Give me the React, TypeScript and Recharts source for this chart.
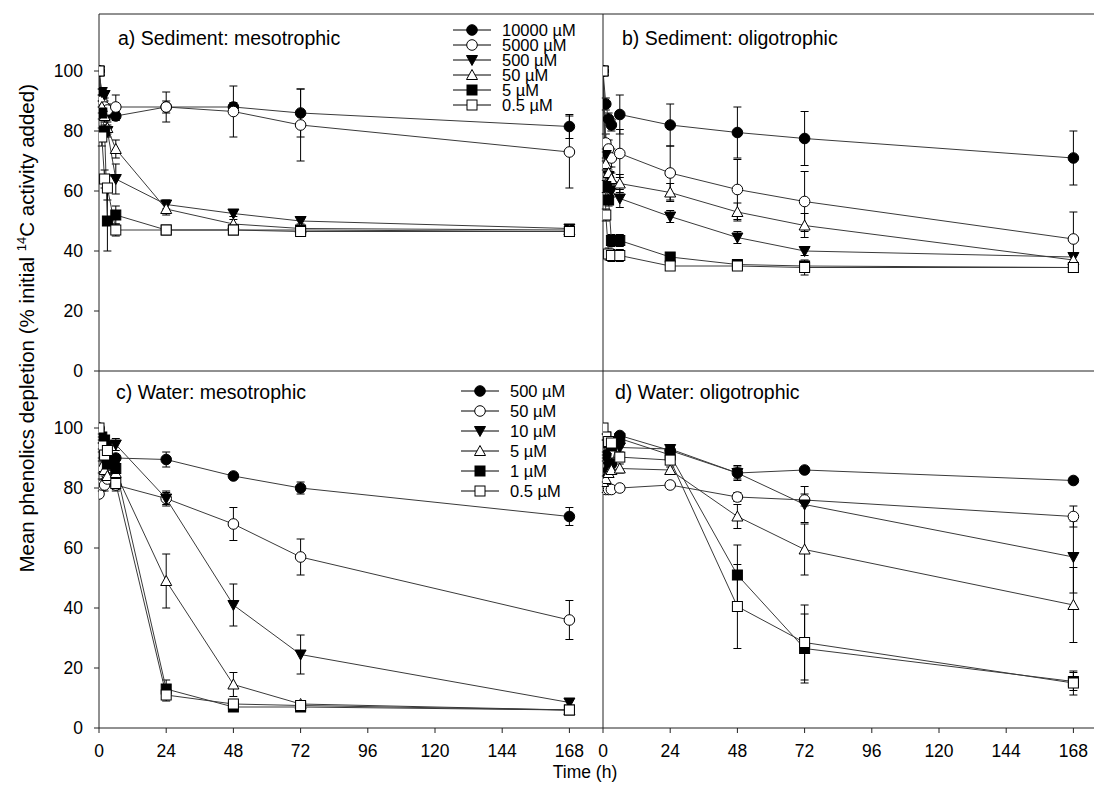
import { LineChart, Line, XAxis, YAxis, ErrorBar, Legend } from "recharts";

// sampling times (h) and axis ticks
const hours = [0, 1, 2, 3, 6, 24, 48, 72, 168];
const hourTicks = [0, 24, 48, 72, 96, 120, 144, 168];
const pctTicks = [0, 20, 40, 60, 80, 100];

const sedimentDoses = ["10000 µM", "5000 µM", "500 µM", "50 µM", "5 µM", "0.5 µM"];
const waterDoses = ["500 µM", "50 µM", "10 µM", "5 µM", "1 µM", "0.5 µM"];

// a) sediment, mesotrophic — one row per dose, one value per sampling time
const sedMesoMean = [
  [100, 92, 87, 86, 85, 88, 88, 86, 81.5],
  [100, 90, 88, 87, 88, 88, 86.5, 82, 73],
  [100, 93, 92, 80, 64, 55.5, 52.5, 50, 47.5],
  [100, 88, 85, 81, 74, 54, 49, 47.5, 47],
  [100, 86, 80, 50, 52, 47, 47, 47, 46.5],
  [100, 78, 64, 61, 47, 47, 47, 46.5, 46.5],
];
const sedMesoErr = [
  [0, 2, 2, 2, 1.5, 2, 1.5, 8, 4],
  [0, 2, 2, 2, 4, 5, 8.5, 12, 12],
  [0, 1, 1, 2, 5, 1.5, 1, 1, 1],
  [0, 2, 2, 2, 3, 2, 1.5, 1, 1],
  [0, 2, 2, 10, 3, 1, 1, 1, 1],
  [0, 3, 3, 4, 2, 1, 1, 1, 1],
];

// b) sediment, oligotrophic
const sedOligoMean = [
  [100, 89, 84, 82, 85.5, 82, 79.5, 77.5, 71],
  [100, 76, 74, 71, 72.5, 66, 60.5, 56.5, 44],
  [100, 72, 65, 60, 57.5, 51.5, 44.5, 40, 38],
  [100, 69, 66, 64, 62.5, 59.5, 53, 48.5, 37],
  [100, 61.5, 57, 43.5, 43.5, 38, 35.5, 35, 34.5],
  [100, 52, 39, 38.5, 38.5, 35, 35, 34.5, 34.5],
];
const sedOligoErr = [
  [0, 2, 2, 2, 6.5, 7, 8.5, 9, 9],
  [0, 3, 3, 3, 8, 9, 10, 10, 9],
  [0, 2, 2, 2, 3, 2, 2, 1.5, 1.5],
  [0, 2, 2, 2, 3, 3, 3, 4, 1.5],
  [0, 2, 2, 2, 2, 1.5, 1, 1, 1],
  [0, 2, 2, 2, 2, 1, 1, 2.5, 1],
];

// c) water, mesotrophic
const watMesoMean = [
  [100, 96, 93, 91, 90, 89.5, 84, 80, 70.5],
  [78, 81, 81, 83, 81, 76.5, 68, 57, 36],
  [95, 91, 93, 94, 94.5, 76.5, 41, 24.5, 8.5],
  [92, 87, 86, 84, 85, 49, 14.5, 8, 6],
  [98, 97, 96, 88, 86.5, 13, 7, 7, 6],
  [100, 94, 91, 92.5, 81.5, 11, 8, 7.5, 6],
];
const watMesoErr = [
  [0, 1, 1, 1, 1, 2.5, 1, 2, 3],
  [0, 2, 2, 2, 2, 2, 5.5, 6, 6.5],
  [0, 1, 1, 1, 2, 2.5, 7, 6.5, 1],
  [0, 2, 2, 2, 2, 9, 4, 1, 0.5],
  [0, 1, 1, 2, 2, 3, 1, 1, 0.5],
  [0, 1, 1, 2, 2, 2, 1, 1, 0.5],
];

// d) water, oligotrophic
const watOligoMean = [
  [97, 91, 86, 88, 97.5, 92.5, 85, 86, 82.5],
  [80, 79.5, 79.5, 79.5, 80, 81, 77, 76, 70.5],
  [83, 90, 87, 88, 93.5, 93, 85, 74.5, 57],
  [82, 83, 85, 86, 86.5, 86, 70.5, 59.5, 41],
  [96, 97, 95, 94, 96.5, 91, 51, 26.5, 15.5],
  [100, 97, 95.5, 95, 90.3, 89.3, 40.5, 28.5, 15],
];
const watOligoErr = [
  [0, 1, 1, 1, 1, 1, 2, 1, 1],
  [0, 1, 1, 1, 1, 1, 1.5, 2, 3.5],
  [0, 1, 1, 2, 1.5, 1, 2.5, 6, 12],
  [0, 1, 1, 1, 1.5, 1, 4, 8.5, 12.5],
  [0, 1, 1, 1, 1, 1, 10, 11.5, 3],
  [0, 1, 1, 1, 1, 1, 14, 12.5, 4],
];

const FONT = '"Liberation Sans", Arial, sans-serif';
const INK = "#000";
const LINE = "#3a3a3a";
const AXIS = "#222";

function buildRows(means: number[][], errs: number[][]) {
  return hours.map((t, i) => {
    const row: Record<string, number> = { t };
    means.forEach((m, k) => {
      row[`s${k}`] = m[i];
      row[`e${k}`] = errs[k][i];
    });
    return row;
  });
}

// 0 filled circle, 1 open circle, 2 filled down-triangle, 3 open up-triangle, 4 filled square, 5 open square
function Marker({ kind, cx, cy }: { kind: number; cx?: number; cy?: number }) {
  if (cx == null || cy == null) return null;
  const paint = { fill: kind % 2 === 0 ? INK : "#fff", stroke: INK, strokeWidth: 1 };
  if (kind < 2) return <circle cx={cx} cy={cy} r={5.3} {...paint} />;
  if (kind === 2)
    return <polygon points={`${cx - 5.5},${cy - 4.5} ${cx + 5.5},${cy - 4.5} ${cx},${cy + 5.5}`} {...paint} />;
  if (kind === 3)
    return <polygon points={`${cx - 5.5},${cy + 4.5} ${cx + 5.5},${cy + 4.5} ${cx},${cy - 5.5}`} {...paint} />;
  return <rect x={cx - 5} y={cy - 5} width={10} height={10} {...paint} />;
}

function DoseKey({ labels, gap, fontSize }: { labels: string[]; gap: number; fontSize: number }) {
  const h = labels.length * gap + 10;
  return (
    <svg width={170} height={h} style={{ display: "block", overflow: "visible" }}>
      {labels.map((lab, k) => {
        const y = 10 + k * gap;
        return (
          <g key={lab}>
            <line x1={13} x2={51} y1={y} y2={y} stroke={INK} strokeWidth={1} />
            <Marker kind={k} cx={32} cy={y} />
            <text x={62} y={y + fontSize * 0.36} fontSize={fontSize} fontFamily={FONT} fill={INK}>
              {lab}
            </text>
          </g>
        );
      })}
    </svg>
  );
}

interface PanelProps {
  means: number[][];
  errs: number[][];
  title: string;
  col: 0 | 1;
  row: 0 | 1;
  labels?: string[];
  keyTop?: number;
  keyLeft?: number;
  keyGap?: number;
}

function Panel({ means, errs, title, col, row, labels, keyTop, keyLeft, keyGap }: PanelProps) {
  const data = buildRows(means, errs);
  const left = col === 0 ? 0 : 593;
  const top = row === 0 ? 0 : 371;
  const width = col === 0 ? 603 : 514;
  const height = row === 0 ? 385 : 430;
  // upper panels: 1px top axis (frame) + inward ticks on the shared bottom edge
  const margin = row === 0 ? { top: 13, right: 0, bottom: 13, left: 0 } : { top: 0, right: 0, bottom: 28, left: 0 };
  const tickStyle = { fontSize: 17.5, fontFamily: FONT, fill: INK };
  const titleX = col === 0 ? (row === 0 ? 118 : 116) : row === 0 ? 29 : 22;
  const titleY = row === 0 ? 45 : 28;

  return (
    <div style={{ position: "absolute", left, top }}>
      <LineChart width={width} height={height} data={data} margin={margin}>
        <XAxis
          dataKey="t"
          type="number"
          domain={[0, 180]}
          ticks={hourTicks}
          allowDataOverflow
          stroke={AXIS}
          tickSize={row === 0 ? -5 : 5}
          tickMargin={12}
          height={row === 0 ? 1 : 45}
          tick={row === 0 ? false : tickStyle}
          tickLine={{ stroke: AXIS }}
        />
        {row === 0 && (
          <XAxis
            xAxisId="top"
            orientation="top"
            type="number"
            domain={[0, 180]}
            height={1}
            tick={false}
            tickLine={false}
            stroke={AXIS}
          />
        )}
        <YAxis
          type="number"
          domain={[0, 119]}
          ticks={pctTicks}
          allowDataOverflow
          width={col === 0 ? 99 : 10}
          stroke={AXIS}
          tickSize={5}
          tickMargin={11}
          tick={col === 0 ? tickStyle : false}
          tickLine={{ stroke: AXIS }}
        />
        {means.map((_, k) => (
          <Line
            key={k}
            dataKey={`s${k}`}
            stroke={LINE}
            strokeWidth={1}
            isAnimationActive={false}
            dot={(p: any) => <Marker key={`m${k}-${p.index}`} kind={k} cx={p.cx} cy={p.cy} />}
            activeDot={false}
          >
            <ErrorBar dataKey={`e${k}`} width={4} stroke={INK} strokeWidth={1} direction="y" />
          </Line>
        ))}
        {labels && (
          <Legend
            layout="horizontal"
            verticalAlign="middle"
            align="center"
            wrapperStyle={{ left: keyLeft, top: keyTop, width: 170 }}
            content={() => <DoseKey labels={labels} gap={keyGap ?? 15} fontSize={16.5} />}
          />
        )}
        <text x={titleX} y={titleY} fontSize={19.5} fontFamily={FONT} fill={INK}>
          {title}
        </text>
      </LineChart>
    </div>
  );
}

export default function App() {
  return (
    <div
      style={{
        position: "absolute",
        left: 0,
        top: 0,
        width: 1094,
        height: 794,
        overflow: "hidden",
        background: "#fff",
        fontFamily: FONT,
      }}
    >
      <Panel means={sedMesoMean} errs={sedMesoErr} title="a) Sediment: mesotrophic" col={0} row={0}
        labels={sedimentDoses} keyLeft={440} keyTop={20} keyGap={15} />
      <Panel means={sedOligoMean} errs={sedOligoErr} title="b) Sediment: oligotrophic" col={1} row={0} />
      <Panel means={watMesoMean} errs={watMesoErr} title="c) Water: mesotrophic" col={0} row={1}
        labels={waterDoses} keyLeft={448} keyTop={10} keyGap={20} />
      <Panel means={watOligoMean} errs={watOligoErr} title="d) Water: oligotrophic" col={1} row={1} />
      <svg width={1094} height={794} style={{ position: "absolute", left: 0, top: 0, pointerEvents: "none" }}>
        <text transform="translate(34,84) rotate(-90)" textAnchor="end" fontSize={20.5} fontFamily={FONT} fill={INK}>
          <tspan>Mean phenolics depletion (% initial </tspan>
          <tspan fontSize={13} dy={-8}>14</tspan>
          <tspan dy={8}>C activity added)</tspan>
        </text>
        <text x={585} y={778} textAnchor="middle" fontSize={17.5} fontFamily={FONT} fill={INK}>
          Time (h)
        </text>
      </svg>
    </div>
  );
}
